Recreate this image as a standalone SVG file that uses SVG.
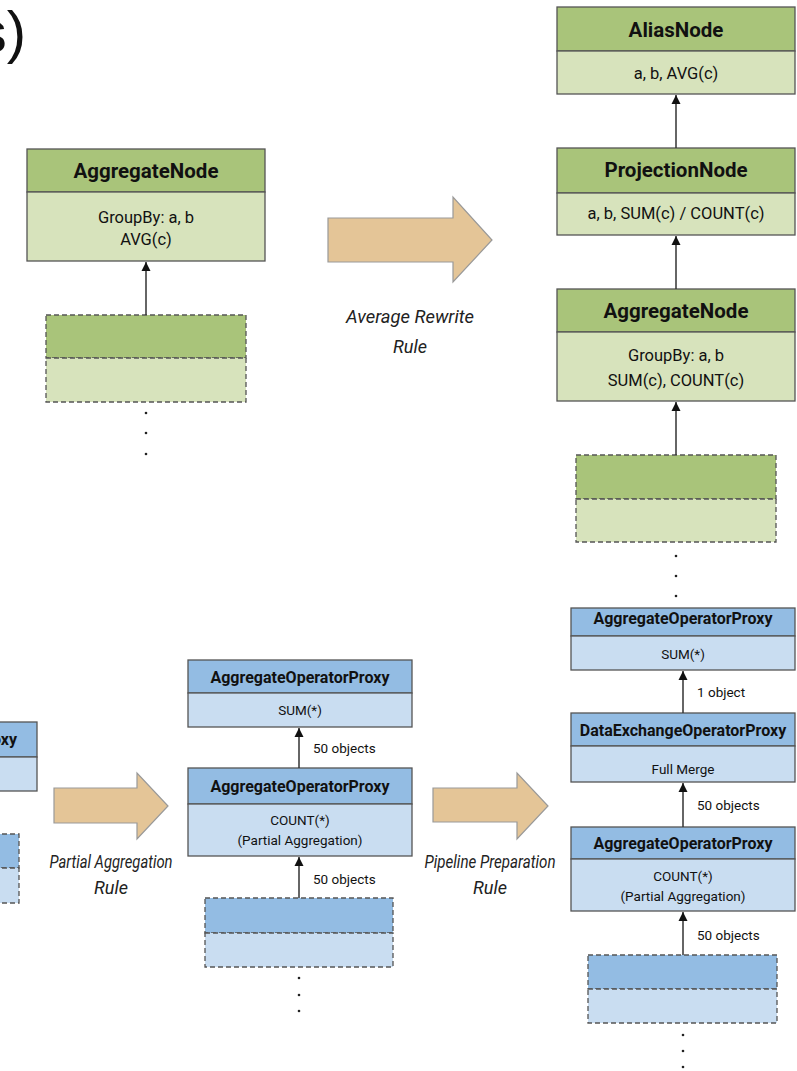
<svg xmlns="http://www.w3.org/2000/svg" width="797" height="1071" viewBox="0 0 797 1071">
<style>
.gh{fill:#A9C47A;stroke:#555;stroke-width:1.3}
.gb{fill:#D7E3BC;stroke:#555;stroke-width:1.3}
.bh{fill:#93BCE3;stroke:#555;stroke-width:1.3}
.bb{fill:#C9DDF1;stroke:#555;stroke-width:1.3}
.dash{stroke-dasharray:5,3}
.ht{font-family:Roboto,"Liberation Sans",sans-serif;font-weight:bold;font-size:20.5px;fill:#111;text-anchor:middle}
.bt{font-family:Roboto,"Liberation Sans",sans-serif;font-size:16.5px;fill:#111;text-anchor:middle}
.pht{font-family:Roboto,"Liberation Sans",sans-serif;font-weight:bold;font-size:16px;fill:#111;text-anchor:middle}
.pbt{font-family:Roboto,"Liberation Sans",sans-serif;font-size:13.5px;fill:#111;text-anchor:middle}
.lbl{font-family:Roboto,"Liberation Sans",sans-serif;font-size:13.5px;fill:#111}
.rule{font-family:Roboto,"Liberation Sans",sans-serif;font-style:italic;font-size:18px;fill:#222;text-anchor:middle}
.big{fill:#E4C597;stroke:#999;stroke-width:1.2}
.con{stroke:#333;stroke-width:1.5;fill:none;marker-end:url(#ah)}
.dot{fill:#222}
</style>
<defs>
<marker id="ah" viewBox="0 0 10 10" refX="10" refY="5" markerWidth="6" markerHeight="9" markerUnits="strokeWidth" orient="auto"><path d="M0,0 L10,5 L0,10 z" fill="#111"/></marker>
</defs>
<rect width="797" height="1071" fill="#fff"/>
<text x="26" y="52" font-family="'Liberation Sans',sans-serif" font-size="58" text-anchor="end" fill="#111">s)</text>

<g id="agg-left">
<rect class="gh" x="27" y="149" width="238" height="43"/>
<rect class="gb" x="27" y="192" width="238" height="69"/>
<text class="ht" x="146" y="178">AggregateNode</text>
<text class="bt" x="146" y="223">GroupBy: a, b</text>
<text class="bt" x="146" y="245">AVG(c)</text>
</g>
<g id="child-left">
<rect class="gh dash" x="46" y="315" width="200" height="43"/>
<rect class="gb dash" x="46" y="358" width="200" height="44"/>
<circle class="dot" cx="146" cy="413" r="1.3"/><circle class="dot" cx="146" cy="433" r="1.3"/><circle class="dot" cx="146" cy="454" r="1.3"/>
</g>

<g id="rule-avg">
<polygon class="big" points="328,218 453,218 453,197 492,240 453,282 453,262 328,262"/>
<text class="rule" x="410" y="323" textLength="128" lengthAdjust="spacingAndGlyphs">Average Rewrite</text>
<text class="rule" x="410" y="353" textLength="34" lengthAdjust="spacingAndGlyphs">Rule</text>
</g>

<g id="alias">
<rect class="gh" x="557" y="7" width="238" height="44"/>
<rect class="gb" x="557" y="51" width="238" height="43"/>
<text class="ht" x="676" y="37">AliasNode</text>
<text class="bt" x="676" y="79">a, b, AVG(c)</text>
</g>
<g id="projection">
<rect class="gh" x="557" y="148" width="238" height="45"/>
<rect class="gb" x="557" y="193" width="238" height="42"/>
<text class="ht" x="676" y="177">ProjectionNode</text>
<text class="bt" x="676" y="219">a, b, SUM(c) / COUNT(c)</text>
</g>
<g id="agg-right">
<rect class="gh" x="557" y="289" width="238" height="43"/>
<rect class="gb" x="557" y="332" width="238" height="69"/>
<text class="ht" x="676" y="318">AggregateNode</text>
<text class="bt" x="676" y="361">GroupBy: a, b</text>
<text class="bt" x="676" y="386">SUM(c), COUNT(c)</text>
</g>
<g id="child-right">
<rect class="gh dash" x="576" y="455" width="200" height="44"/>
<rect class="gb dash" x="576" y="499" width="200" height="43"/>
<circle class="dot" cx="676" cy="556" r="1.3"/><circle class="dot" cx="676" cy="576" r="1.3"/><circle class="dot" cx="676" cy="596" r="1.3"/>
</g>

<g id="proxy-left">
<rect class="bh" x="-185" y="722" width="222" height="35"/>
<rect class="bb" x="-185" y="757" width="222" height="34"/>
<text class="pht" x="17" y="745" style="text-anchor:end">AggregateOperatorProxy</text>
</g>
<g id="child-proxy-left">
<rect class="bh dash" x="-150" y="834" width="169" height="34"/>
<rect class="bb dash" x="-150" y="868" width="169" height="35"/>
</g>

<g id="rule-partial">
<polygon class="big" points="54,788 137,788 137,773 168,806 137,839 137,823 54,823"/>
<text class="rule" x="111" y="868" textLength="123" lengthAdjust="spacingAndGlyphs">Partial Aggregation</text>
<text class="rule" x="111" y="894" textLength="34" lengthAdjust="spacingAndGlyphs">Rule</text>
</g>

<g id="proxy-sum-mid">
<rect class="bh" x="188" y="660" width="224" height="33"/>
<rect class="bb" x="188" y="693" width="224" height="34"/>
<text class="pht" x="300" y="683">AggregateOperatorProxy</text>
<text class="pbt" x="300" y="715">SUM(*)</text>
</g>
<g id="proxy-count-mid">
<rect class="bh" x="188" y="768" width="224" height="36"/>
<rect class="bb" x="188" y="804" width="224" height="52"/>
<text class="pht" x="300" y="792">AggregateOperatorProxy</text>
<text class="pbt" x="300" y="825">COUNT(*)</text>
<text class="pbt" x="300" y="845">(Partial Aggregation)</text>
</g>
<g id="child-mid">
<rect class="bh dash" x="205" y="898" width="188" height="35"/>
<rect class="bb dash" x="205" y="933" width="188" height="34"/>
<circle class="dot" cx="299" cy="978" r="1.3"/><circle class="dot" cx="299" cy="995" r="1.3"/><circle class="dot" cx="299" cy="1011" r="1.3"/>
</g>

<g id="rule-pipeline">
<polygon class="big" points="433,788 517,788 517,773 548,806 517,839 517,822 433,822"/>
<text class="rule" x="490" y="868" textLength="131" lengthAdjust="spacingAndGlyphs">Pipeline Preparation</text>
<text class="rule" x="490" y="894" textLength="34" lengthAdjust="spacingAndGlyphs">Rule</text>
</g>

<g id="proxy-sum-right">
<rect class="bh" x="571" y="608" width="224" height="28"/>
<rect class="bb" x="571" y="636" width="224" height="34"/>
<text class="pht" x="683" y="624">AggregateOperatorProxy</text>
<text class="pbt" x="683" y="659">SUM(*)</text>
</g>
<g id="exchange-right">
<rect class="bh" x="571" y="713" width="224" height="33"/>
<rect class="bb" x="571" y="746" width="224" height="36"/>
<text class="pht" x="683" y="736">DataExchangeOperatorProxy</text>
<text class="pbt" x="683" y="774">Full Merge</text>
</g>
<g id="proxy-count-right">
<rect class="bh" x="571" y="827" width="224" height="32"/>
<rect class="bb" x="571" y="859" width="224" height="52"/>
<text class="pht" x="683" y="849">AggregateOperatorProxy</text>
<text class="pbt" x="683" y="881">COUNT(*)</text>
<text class="pbt" x="683" y="901">(Partial Aggregation)</text>
</g>
<g id="child-proxy-right">
<rect class="bh dash" x="588" y="955" width="189" height="34"/>
<rect class="bb dash" x="588" y="989" width="189" height="34"/>
<circle class="dot" cx="683" cy="1035" r="1.3"/><circle class="dot" cx="683" cy="1051" r="1.3"/><circle class="dot" cx="683" cy="1067" r="1.3"/>
</g>

<g id="connectors">
<line class="con" x1="146" y1="315" x2="146" y2="262"/>
<line class="con" x1="676" y1="148" x2="676" y2="95"/>
<line class="con" x1="676" y1="289" x2="676" y2="236"/>
<line class="con" x1="676" y1="455" x2="676" y2="402"/>
<line class="con" x1="299" y1="768" x2="299" y2="728"/>
<line class="con" x1="299" y1="898" x2="299" y2="857"/>
<line class="con" x1="683" y1="713" x2="683" y2="671"/>
<line class="con" x1="683" y1="827" x2="683" y2="783"/>
<line class="con" x1="683" y1="955" x2="683" y2="912"/>
<text class="lbl" x="313" y="753">50 objects</text>
<text class="lbl" x="313" y="884">50 objects</text>
<text class="lbl" x="697" y="697">1 object</text>
<text class="lbl" x="697" y="810">50 objects</text>
<text class="lbl" x="697" y="940">50 objects</text>
</g>
</svg>
